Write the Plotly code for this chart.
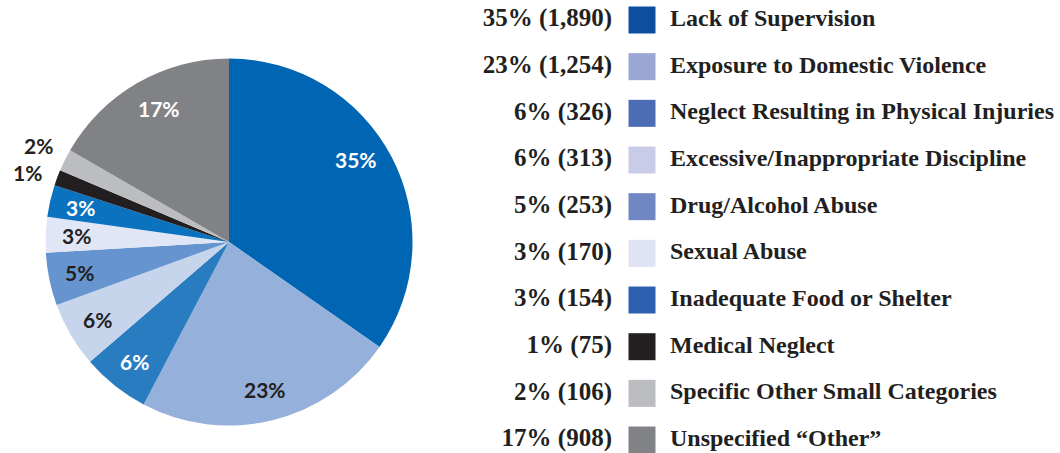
import math
import plotly.graph_objects as go

# ---- data ----
categories = [
    "Lack of Supervision",
    "Exposure to Domestic Violence",
    "Neglect Resulting in Physical Injuries",
    "Excessive/Inappropriate Discipline",
    "Drug/Alcohol Abuse",
    "Sexual Abuse",
    "Inadequate Food or Shelter",
    "Medical Neglect",
    "Specific Other Small Categories",
    "Unspecified \u201cOther\u201d",
]
counts = [1890, 1254, 326, 313, 253, 170, 154, 75, 106, 908]
percent_labels = ["35%", "23%", "6%", "6%", "5%", "3%", "3%", "1%", "2%", "17%"]
count_labels = ["1,890", "1,254", "326", "313", "253", "170", "154", "75", "106", "908"]

# ---- styles ----
pie_colors = ["#0066b3", "#95b0db", "#2a7cc1", "#c6d4ec", "#6594ce",
              "#e0e6f5", "#0a72bf", "#231f20", "#bcbdc0", "#808285"]
legend_colors = ["#0d4e9e", "#9aa6d3", "#4a6db5", "#c8cce8", "#7187c4",
                 "#e0e3f4", "#2c5fae", "#231f20", "#bcbdc0", "#808285"]
label_colors = ["white", "#231f20", "white", "#231f20", "#231f20",
                "#231f20", "white", "#231f20", "#231f20", "white"]
outside = [False] * 7 + [True, True, False]
label_xshift = [-8, 0, 0, 0, 0, 0, 0, -2, 0, 6]
label_yshift = [12, 0, 0, 0, 0, 0, 0, -5, 1, 2]
dark = "#231f20"

W, H = 1060, 453
cx, cy, R = 229, 242, 183.5
pie_dom_x = [(cx - R) / W, (cx + R) / W]
pie_dom_y = [(H - cy - R) / H, (H - cy + R) / H]

# label axis: 1 unit = pie radius, extended left/up for outside labels
lx_range = [-1.24, 1.0]
ly_range = [-1.0, 1.3]
lab_dom_x = [(cx + lx_range[0] * R) / W, (cx + lx_range[1] * R) / W]
lab_dom_y = [(H - cy + ly_range[0] * R) / H, (H - cy + ly_range[1] * R) / H]

fig = go.Figure()
fig.add_trace(go.Pie(
    values=counts, labels=categories, sort=False, direction="clockwise",
    rotation=0, textinfo="none", hoverinfo="label+value+percent",
    marker=dict(colors=pie_colors, line=dict(width=0)),
    domain=dict(x=pie_dom_x, y=pie_dom_y), showlegend=False,
))

# slice label positions from cumulative values (annotations sit above the pie)
total = sum(counts)
cum = 0
for v, out, txt, col, dx, dy in zip(counts, outside, percent_labels,
                                    label_colors, label_xshift, label_yshift):
    mid = (cum + v / 2) / total * 2 * math.pi
    r = 1.16 if out else 0.83
    fig.add_annotation(
        x=r * math.sin(mid), y=r * math.cos(mid), xref="x", yref="y",
        text=txt, showarrow=False, xshift=dx, yshift=dy, borderpad=0,
        font=dict(family="Lato", size=21, color=col, weight="bold"),
    )
    cum += v

# legend built on its own axis: row index = category index
rows = list(range(len(categories)))
value_texts = [f"{p} ({c})" for p, c in zip(percent_labels, count_labels)]
fig.add_trace(go.Scatter(
    x=[612] * len(rows), y=rows, mode="text", text=value_texts,
    textposition="middle left",
    textfont=dict(family="Liberation Serif", size=25, color=dark, weight="bold"),
    hoverinfo="skip", xaxis="x2", yaxis="y2", showlegend=False,
))
fig.add_trace(go.Scatter(
    x=[642] * len(rows), y=rows, mode="markers",
    marker=dict(symbol="square", size=27, color=legend_colors, line=dict(width=0)),
    hoverinfo="skip", xaxis="x2", yaxis="y2", showlegend=False,
))
fig.add_trace(go.Scatter(
    x=[670] * len(rows), y=rows, mode="text", text=categories,
    textposition="middle right",
    textfont=dict(family="Liberation Serif", size=24, color=dark, weight="bold"),
    hoverinfo="skip", xaxis="x2", yaxis="y2", showlegend=False,
))

row_top, row_step = 20, 46.67
hidden = dict(visible=False, showgrid=False, zeroline=False, fixedrange=True)
fig.update_layout(
    width=W, height=H, margin=dict(l=0, r=0, t=0, b=0),
    paper_bgcolor="white", plot_bgcolor="rgba(0,0,0,0)", showlegend=False,
    xaxis=dict(domain=lab_dom_x, range=lx_range, **hidden),
    yaxis=dict(domain=lab_dom_y, range=ly_range, **hidden),
    xaxis2=dict(domain=[0, 1], range=[0, W], **hidden),
    yaxis2=dict(domain=[0, 1],
                range=[(H - row_top) / row_step, -row_top / row_step], **hidden),
)

fig.write_html("out.html", config={"displayModeBar": False},
               post_script="document.body.style.margin='0';")
